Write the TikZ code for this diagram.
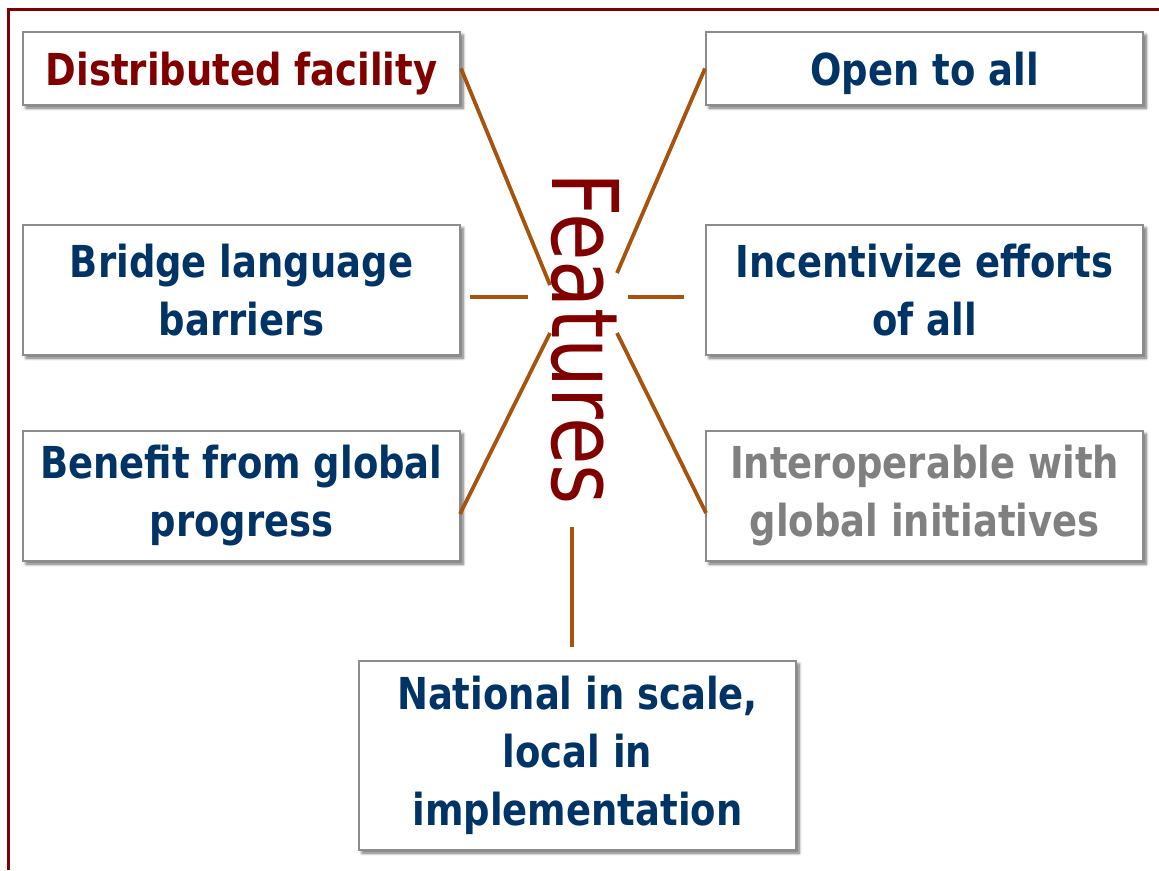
\documentclass[tikz,border=0pt]{standalone}
\usepackage{fontspec}
\setmainfont{DejaVu Sans}[FakeStretch=0.84]
\usetikzlibrary{shadows.blur}
\definecolor{navy}{RGB}{0,51,102}
\definecolor{maroon}{RGB}{128,0,0}
\definecolor{greytext}{RGB}{128,128,128}
\definecolor{spoke}{RGB}{166,83,14}
\definecolor{boxline}{RGB}{140,140,140}
\tikzset{
  featbox/.style={draw=boxline, line width=2pt, fill=white, align=center,
    minimum width=437pt, inner sep=0pt, text=navy,
    font=\fontsize{44}{58}\selectfont\bfseries,
    blur shadow={shadow xshift=3pt, shadow yshift=-3pt, shadow blur radius=3pt,
      shadow blur steps=6, shadow opacity=60}},
  spokeline/.style={draw=spoke, line width=3.8pt}
}

\begin{document}
\begin{tikzpicture}[x=1pt, y=-1pt]
      \useasboundingbox (0,0) rectangle (1159,870);
      % frame
      \draw[maroon, line width=3.8pt] (8.5,870) -- (8.5,9.5) -- (1159,9.5);

      \draw (241.5,68.5) node[featbox, minimum height=73pt, text depth=0pt, text=maroon] (dist) {Distributed facility};
      \draw (924.5,68.5) node[featbox, minimum height=73pt, text depth=0pt] (open) {Open to all};
      \draw (241.5,290) node[featbox, minimum height=130pt] (bridge) {Bridge language\\barriers};
      \draw (924.5,290) node[featbox, minimum height=130pt] (incent) {Incentivize efforts\\of all};
      \draw (241.5,496) node[featbox, minimum height=130pt] (benefit) {Benefit from global\\progress};
      \draw (924.5,496) node[featbox, minimum height=130pt, text=greytext] (interop) {Interoperable with\\global initiatives};
      \draw (577.5,755.5) node[featbox, minimum height=189pt] (natl) {National in scale,\\local in\\implementation};

      \draw (585,339) node[rotate=-90, inner sep=0pt, text=maroon,
        font=\fontsize{92}{92}\selectfont] (feat) {Features};

      \coordinate (hubNW) at (550,285);
      \coordinate (hubNE) at (617,273);
      \coordinate (hubW) at (528,297);
      \coordinate (hubE) at (628,297);
      \coordinate (hubSW) at (550,333);
      \coordinate (hubSE) at (617,333);
      \coordinate (hubS) at (572,527);
      \coordinate (bridgeEnd) at (470,297);
      \coordinate (incentEnd) at (684,297);
      \coordinate (benefitEnd) at (460,514);
      \coordinate (interopEnd) at (706,513);
      \coordinate (natlEnd) at (572,647);

      \draw[spokeline] (dist.east) -- (hubNW);
      \draw[spokeline] (open.west) -- (hubNE);
      \draw[spokeline] (bridgeEnd) -- (hubW);
      \draw[spokeline] (hubE) -- (incentEnd);
      \draw[spokeline] (hubSW) -- (benefitEnd);
      \draw[spokeline] (hubSE) -- (interopEnd);
      \draw[spokeline] (hubS) -- (natlEnd);
\end{tikzpicture}
\end{document}
